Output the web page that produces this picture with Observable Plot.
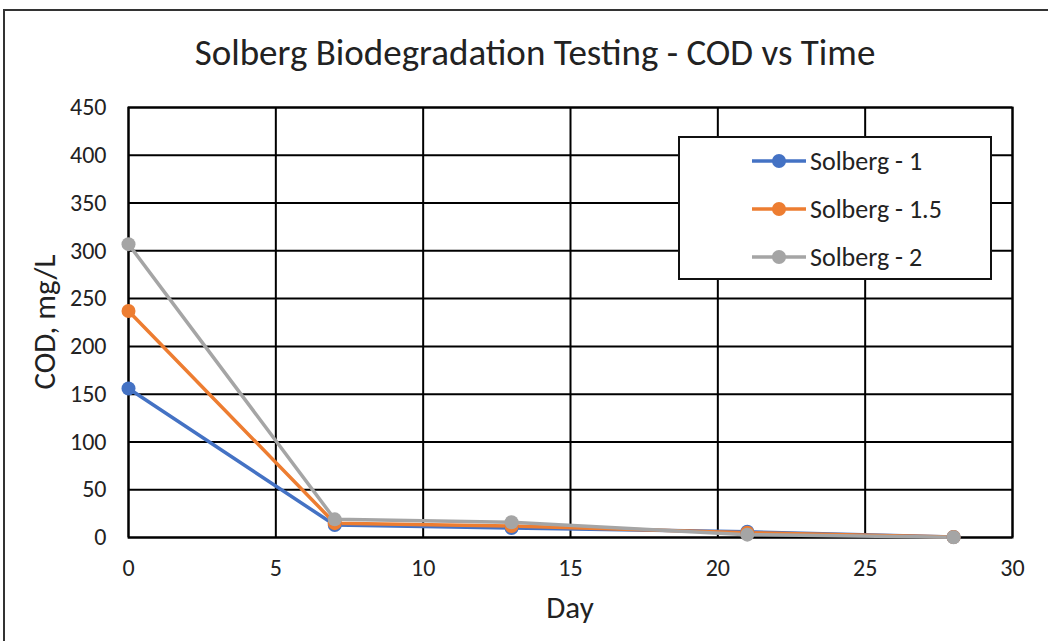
<!DOCTYPE html>
<html>
<head>
<meta charset="utf-8">
<script src="https://cdn.jsdelivr.net/npm/d3@7"></script>
<script src="https://cdn.jsdelivr.net/npm/@observablehq/plot@0.6"></script>
<style>
  html, body { margin: 0; padding: 0; background: #fff; }
  body { font-family: Carlito, Calibri, Lato, "Open Sans", sans-serif; color: #222; }
  #wrap { position: relative; width: 1048px; height: 641px; overflow: hidden; }
  #border { position: absolute; left: 3px; top: 9px; width: 1100px; height: 700px; border: 2px solid #333; box-sizing: border-box; }
  #title { position: absolute; left: 0; width: 1070px; top: 31px; text-align: center; font-size: 37px; line-height: 44px; }
  #xlabel { position: absolute; left: 128px; width: 884px; top: 587px; text-align: center; font-size: 31px; line-height: 40px; }
  #ylabel { position: absolute; left: 44px; top: 322px; transform: translate(-50%, -50%) rotate(-90deg); font-size: 31px; white-space: nowrap; line-height: 40px; }
  #chart { position: absolute; left: 0; top: 0; }
  #legend { position: absolute; left: 678px; top: 136px; width: 314px; height: 144px; border: 2px solid #111; box-sizing: border-box; background: #fff; }
  .item { position: absolute; left: 72px; height: 34px; display: flex; align-items: center; font-size: 26px; }
  .item svg { margin-right: 4px; }
</style>
</head>
<body>
<div id="wrap">
  <div id="border"></div>
  <div id="chart"></div>
  <div id="title">Solberg Biodegradation Testing - COD vs Time</div>
  <div id="xlabel">Day</div>
  <div id="ylabel">COD, mg/L</div>
  <div id="legend"></div>
</div>
<script>
const days = [0, 7, 13, 21, 28];
const seriesNames = ["Solberg - 1", "Solberg - 1.5", "Solberg - 2"];
const solberg1 = [156, 13, 10, 6, 0.5];
const solberg15 = [237, 15, 12, 5, 0.5];
const solberg2 = [307, 19, 16, 3, 0.3];
const colors = ["#4472C4", "#ED7D31", "#A5A5A5"];
const xTicks = [0, 5, 10, 15, 20, 25, 30];
const yTicks = [0, 50, 100, 150, 200, 250, 300, 350, 400, 450];

const allValues = [solberg1, solberg15, solberg2];
const rows = [];
seriesNames.forEach((name, i) => {
  days.forEach((d, j) => rows.push({series: name, day: d, cod: allValues[i][j]}));
});

const chart = Plot.plot({
  width: 1048,
  height: 641,
  marginLeft: 128,
  marginRight: 36,
  marginTop: 107,
  marginBottom: 104,
  style: {fontFamily: "Carlito, Calibri, Lato, 'Open Sans', sans-serif", fontSize: "24px", color: "#222", background: "transparent"},
  x: {domain: [0, 30], ticks: xTicks, label: null},
  y: {domain: [0, 450], ticks: yTicks, label: null},
  color: {domain: seriesNames, range: colors},
  marks: [
    Plot.gridX(xTicks, {stroke: "#000", strokeOpacity: 1, strokeWidth: 2}),
    Plot.gridY(yTicks, {stroke: "#000", strokeOpacity: 1, strokeWidth: 2}),
    Plot.frame({stroke: "#000", strokeWidth: 2}),
    Plot.axisX(xTicks, {tickSize: 0, tickPadding: 21, fontSize: 24, label: null}),
    Plot.axisY(yTicks, {tickSize: 0, tickPadding: 22, fontSize: 24, label: null}),
    Plot.line(rows, {x: "day", y: "cod", z: "series", stroke: "series", strokeWidth: 3.5}),
    Plot.dot(rows, {x: "day", y: "cod", fill: "series", r: 7})
  ]
});
document.getElementById("chart").appendChild(chart);

const legend = document.getElementById("legend");
seriesNames.forEach((name, i) => {
  const div = document.createElement("div");
  div.className = "item";
  div.style.top = (6 + i * 48) + "px";
  div.innerHTML = `<svg width="54" height="16"><line x1="0" y1="8" x2="54" y2="8" stroke="${colors[i]}" stroke-width="3.5"/><circle cx="27" cy="8" r="7" fill="${colors[i]}"/></svg><span>${name}</span>`;
  legend.appendChild(div);
});
</script>
</body>
</html>
